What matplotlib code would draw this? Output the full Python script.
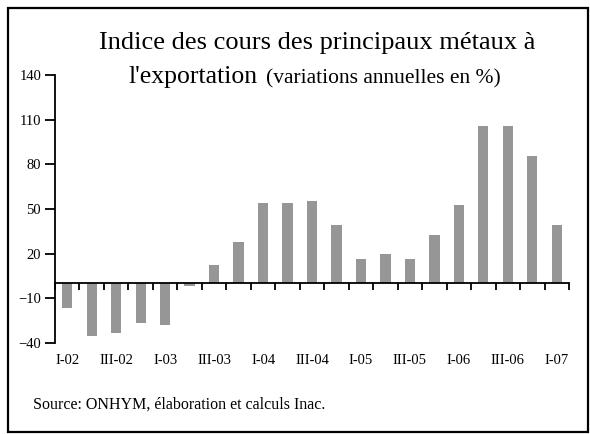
import numpy as np
import matplotlib.pyplot as plt
from matplotlib.patches import Rectangle

# Quarterly data, I-02 .. I-07 (annual change in %)
quarters = ['I-02', 'II-02', 'III-02', 'IV-02', 'I-03', 'II-03', 'III-03', 'IV-03',
            'I-04', 'II-04', 'III-04', 'IV-04', 'I-05', 'II-05', 'III-05', 'IV-05',
            'I-06', 'II-06', 'III-06', 'IV-06', 'I-07']
values = [-16.5, -35, -33, -26.5, -28, -1.5, 12.5, 28, 54, 54, 55.5, 39.5,
          16.5, 20, 16.5, 32.5, 52.5, 105.5, 105.5, 85.5, 39.5]
y_ticks = [-40, -10, 20, 50, 80, 110, 140]

plt.rcParams['font.family'] = ['Liberation Serif', 'DejaVu Serif']

fig = plt.figure(figsize=(5.9, 4.34), dpi=100)
ax = fig.add_axes([55 / 590, 1 - 343 / 434, 514 / 590, 268 / 434])

x = np.arange(len(quarters))
ax.bar(x, values, width=0.42, color='#969696', zorder=2)

ax.set_xlim(-0.5, len(quarters) - 0.5)
ax.set_ylim(-40, 140)
ax.set_yticks(y_ticks)
ax.tick_params(axis='y', direction='out', length=7, width=1.3, pad=3, labelsize=10.5)

# x axis line at zero, ticks between categories
ax.spines['bottom'].set_position(('data', 0))
ax.spines['top'].set_visible(False)
ax.spines['right'].set_visible(False)
ax.spines['left'].set_linewidth(1.3)
ax.spines['bottom'].set_linewidth(1.3)
ax.set_xticks(np.arange(-0.5, len(quarters), 1.0))
ax.tick_params(axis='x', direction='out', length=5, width=1.3, labelbottom=False)

# category labels at the bottom of the plot
sec = ax.secondary_xaxis(0)
sec.set_xticks(x[::2], [quarters[i] for i in x[::2]])
sec.tick_params(length=0, pad=8, labelsize=10.5)
sec.spines['bottom'].set_visible(False)

# title (two lines, second one mixes sizes)
fig.text(317 / 590, 1 - 49 / 434, 'Indice des cours des principaux métaux à',
         ha='center', va='baseline', fontsize=19)
t1 = fig.text(129 / 590, 1 - 83 / 434, "l'exportation", ha='left', va='baseline', fontsize=18.5)
fig.canvas.draw()
bb = t1.get_window_extent()
fig.text((bb.x1 + 8) / 590, 1 - 83 / 434, '(variations annuelles en %)',
         ha='left', va='baseline', fontsize=15.5)

fig.text(33 / 590, 1 - 409 / 434, 'Source: ONHYM, élaboration et calculs Inac.',
         ha='left', va='baseline', fontsize=11.5)

# outer frame
fig.patches.append(Rectangle((8 / 590, 2 / 434), 580 / 590, 424 / 434,
                             transform=fig.transFigure, fill=False,
                             edgecolor='black', linewidth=1.6))

fig.savefig('out.png', dpi=100)
